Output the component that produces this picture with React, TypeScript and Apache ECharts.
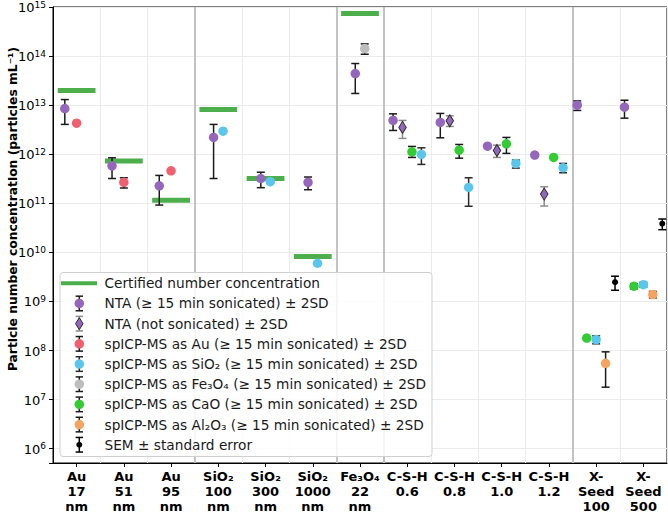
import React, { useEffect, useRef } from "react";
import * as echarts from "echarts";

const FONT = "DejaVu Sans";

const categories = [
  "Au\n17\nnm", "Au\n51\nnm", "Au\n95\nnm",
  "SiO₂\n100\nnm", "SiO₂\n300\nnm", "SiO₂\n1000\nnm",
  "Fe₃O₄\n22\nnm",
  "C-S-H\n0.6", "C-S-H\n0.8", "C-S-H\n1.0", "C-S-H\n1.2",
  "X-\nSeed\n100", "X-\nSeed\n500",
];

const yTickExponents = [6, 7, 8, 9, 10, 11, 12, 13, 14, 15];

const N = null;
const certified = [2.0e13, 7.3e11, 1.16e11, 8.2e12, 3.2e11, 8.2e9, 7.35e14, N, N, N, N, N, N];

const ntaSonicated = [8.5e12, 5.8e11, 2.27e11, 2.2e12, 3.2e11, 2.67e11, 4.4e13, 4.88e12, 4.45e12, 1.46e12, 9.6e11, 1.0e13, 9.1e12];
const ntaSonicatedLow = [4.05e12, 3.2e11, 9.2e10, 3.2e11, 2.08e11, 1.89e11, 1.73e13, 3.05e12, 2.16e12, N, N, 7.8e12, 5.43e12];
const ntaSonicatedHigh = [1.3e13, 8.45e11, 3.7e11, 4.05e12, 4.3e11, 3.43e11, 7.05e13, 6.65e12, 6.78e12, N, N, 1.22e13, 1.26e13];

const ntaNotSonicated = [N, N, N, N, N, N, N, 3.52e12, 4.8e12, 1.19e12, 1.54e11, N, N];
const ntaNotSonicatedLow = [N, N, N, N, N, N, N, 2.1e12, 3.68e12, 8.6e11, 8.8e10, N, N];
const ntaNotSonicatedHigh = [N, N, N, N, N, N, N, 4.88e12, 6.05e12, 1.53e12, 2.17e11, N, N];

const spAu = [4.3e12, 2.67e11, 4.6e11, N, N, N, N, N, N, N, N, N, N];
const spAuLow = [N, 2.05e11, N, N, N, N, N, N, N, N, N, N, N];
const spAuHigh = [N, 3.31e11, N, N, N, N, N, N, N, N, N, N, N];

const spSiO2 = [N, N, N, 2.95e12, 2.75e11, 6.0e9, N, 9.9e11, 2.11e11, 6.5e11, 5.3e11, 1.67e8, 2.2e9];
const spSiO2Low = [N, N, N, N, N, N, N, 6.2e11, 8.7e10, 5.22e11, 4.19e11, 1.37e8, 1.95e9];
const spSiO2High = [N, N, N, N, N, N, N, 1.35e12, 3.31e11, 7.6e11, 6.5e11, 1.99e8, 2.45e9];

const spFe3O4 = [N, N, N, N, N, N, 1.42e14, N, N, N, N, N, N];
const spFe3O4Low = [N, N, N, N, N, N, 1.09e14, N, N, N, N, N, N];
const spFe3O4High = [N, N, N, N, N, N, 1.77e14, N, N, N, N, N, N];

const spCaO = [N, N, N, N, N, N, N, 1.12e12, 1.21e12, 1.63e12, 8.6e11, 1.79e8, 2.04e9];
const spCaOLow = [N, N, N, N, N, N, N, 8.6e11, 8.3e11, 1.04e12, N, N, 1.8e9];
const spCaOHigh = [N, N, N, N, N, N, N, 1.44e12, 1.58e12, 2.2e12, N, N, 2.3e9];

const spAl2O3 = [N, N, N, N, N, N, N, N, N, N, N, 5.5e7, 1.38e9];
const spAl2O3Low = [N, N, N, N, N, N, N, N, N, N, N, 1.79e7, 1.18e9];
const spAl2O3High = [N, N, N, N, N, N, N, N, N, N, N, 9.4e7, 1.6e9];

const sem = [N, N, N, N, N, N, N, N, N, N, N, 2.47e9, 3.84e10];
const semLow = [N, N, N, N, N, N, N, N, N, N, N, 1.69e9, 2.9e10];
const semHigh = [N, N, N, N, N, N, N, N, N, N, N, 3.27e9, 4.78e10];

// group separators (after these category counts)
const groupEnds = [3, 6, 7, 11];

// ---- layout / style ----
const GREEN_LINE = "#4caf4c";
const PURPLE = "#9467bd";
const RED = "#f0606e";
const BLUE = "#5ac6ee";
const GREY = "#bdbdbd";
const LIME = "#33cc33";
const ORANGE = "#f4a460";
const BLACK = "#000000";

const dodge = {
  nta: [-0.25, -0.25, -0.25, -0.1, -0.1, -0.1, -0.1, -0.3, -0.3, -0.3, -0.3, -0.4, -0.4],
  ntaNot: [0, 0, 0, 0, 0, 0, 0, -0.1, -0.1, -0.1, -0.1, 0, 0],
  au: [0, 0, 0, 0, 0, 0, 0, 0, 0, 0, 0, 0, 0],
  sio2: [0, 0, 0, 0.1, 0.1, 0.1, 0, 0.3, 0.3, 0.3, 0.3, 0, 0],
  fe: [0, 0, 0, 0, 0, 0, 0.1, 0, 0, 0, 0, 0, 0],
  cao: [0, 0, 0, 0, 0, 0, 0, 0.1, 0.1, 0.1, 0.1, -0.2, -0.2],
  al: [0, 0, 0, 0, 0, 0, 0, 0, 0, 0, 0, 0.2, 0.2],
  sem: [0, 0, 0, 0, 0, 0, 0, 0, 0, 0, 0, 0.4, 0.4],
};

type Method = {
  name: string;
  values: (number | null)[];
  low: (number | null)[];
  high: (number | null)[];
  off: number[];
  color: string;
  symbol: string;
  size: number | number[];
  bar: string;
  border?: string;
};

const methods: Method[] = [
  { name: "NTA (≥ 15 min sonicated) ± 2SD", values: ntaSonicated, low: ntaSonicatedLow, high: ntaSonicatedHigh, off: dodge.nta, color: PURPLE, symbol: "circle", size: 9.5, bar: "#1a1a1a" },
  { name: "NTA (not sonicated) ± 2SD", values: ntaNotSonicated, low: ntaNotSonicatedLow, high: ntaNotSonicatedHigh, off: dodge.ntaNot, color: PURPLE, symbol: "diamond", size: [7.5, 12], bar: "#8c8c8c", border: "#2a2a2a" },
  { name: "spICP-MS as Au (≥ 15 min sonicated) ± 2SD", values: spAu, low: spAuLow, high: spAuHigh, off: dodge.au, color: RED, symbol: "circle", size: 9.5, bar: "#1a1a1a" },
  { name: "spICP-MS as SiO₂ (≥ 15 min sonicated) ± 2SD", values: spSiO2, low: spSiO2Low, high: spSiO2High, off: dodge.sio2, color: BLUE, symbol: "circle", size: 9.5, bar: "#2a2a2a" },
  { name: "spICP-MS as Fe₃O₄ (≥ 15 min sonicated) ± 2SD", values: spFe3O4, low: spFe3O4Low, high: spFe3O4High, off: dodge.fe, color: GREY, symbol: "circle", size: 9.5, bar: "#1a1a1a" },
  { name: "spICP-MS as CaO (≥ 15 min sonicated) ± 2SD", values: spCaO, low: spCaOLow, high: spCaOHigh, off: dodge.cao, color: LIME, symbol: "circle", size: 9.5, bar: "#1a1a1a" },
  { name: "spICP-MS as Al₂O₃ (≥ 15 min sonicated) ± 2SD", values: spAl2O3, low: spAl2O3Low, high: spAl2O3High, off: dodge.al, color: ORANGE, symbol: "circle", size: 9.5, bar: "#1a1a1a" },
  { name: "SEM ± standard error", values: sem, low: semLow, high: semHigh, off: dodge.sem, color: BLACK, symbol: "circle", size: 6, bar: "#000000" },
];

const CAP = 4;
const TOP_Z = 200;

function buildOption() {
  const series: any[] = [];

  // certified horizontal bars
  series.push({
    type: "custom",
    name: "Certified number concentration",
    xAxisIndex: 0,
    yAxisIndex: 0,
    silent: true,
    z: 3,
    encode: { x: 0, y: 1 },
    data: certified
      .map((v, i) => (v == null ? null : [i + 0.5, v]))
      .filter((d) => d != null),
    renderItem: (_p: any, api: any) => {
      const x = api.value(0);
      const v = api.value(1);
      const a = api.coord([x - 0.4, v]);
      const b = api.coord([x + 0.4, v]);
      return {
        type: "line",
        shape: { x1: a[0], y1: a[1], x2: b[0], y2: b[1] },
        style: { stroke: GREEN_LINE, lineWidth: 5 },
      };
    },
  });

  // group separator lines
  series.push({
    type: "scatter",
    name: "separators",
    silent: true,
    z: 1,
    data: [],
    markLine: {
      silent: true,
      symbol: ["none", "none"],
      label: { show: false },
      z: 1,
      lineStyle: { color: "#c2c2c2", width: 2, type: "solid" },
      data: groupEnds.map((g) => ({ xAxis: g })),
    },
  });

  methods.forEach((m) => {
    const bars: any[] = [];
    m.values.forEach((v, i) => {
      const lo = m.low[i];
      const hi = m.high[i];
      if (v != null && lo != null && hi != null) bars.push([i + 0.5 + m.off[i], lo, hi]);
    });
    if (bars.length) {
      series.push({
        type: "custom",
        name: m.name + " err",
        silent: true,
        z: 4,
        encode: { x: 0, y: [1, 2] },
        data: bars,
        renderItem: (_p: any, api: any) => {
          const x = api.value(0);
          const p1 = api.coord([x, api.value(1)]);
          const p2 = api.coord([x, api.value(2)]);
          const st = { stroke: m.bar, lineWidth: 1.5 };
          return {
            type: "group",
            children: [
              { type: "line", shape: { x1: p1[0], y1: p1[1], x2: p2[0], y2: p2[1] }, style: st },
              { type: "line", shape: { x1: p1[0] - CAP, y1: p1[1], x2: p1[0] + CAP, y2: p1[1] }, style: st },
              { type: "line", shape: { x1: p2[0] - CAP, y1: p2[1], x2: p2[0] + CAP, y2: p2[1] }, style: st },
            ],
          };
        },
      });
    }
    series.push({
      type: "scatter",
      name: m.name,
      silent: true,
      z: 5,
      symbol: m.symbol,
      symbolSize: m.size,
      itemStyle: {
        color: m.color,
        opacity: 1,
        borderColor: m.border || m.color,
        borderWidth: m.border ? 1 : 0,
      },
      data: m.values
        .map((v, i) => (v == null ? null : [i + 0.5 + m.off[i], v]))
        .filter((d) => d != null),
    });
  });

  // legend drawn as graphic
  const legendRows = [
    { label: "Certified number concentration", kind: "line", color: GREEN_LINE, bar: "" },
    ...methods.map((m) => ({
      label: m.name,
      kind: m.symbol === "diamond" ? "diamond" : m.color === BLACK ? "dot" : "circle",
      color: m.color,
      bar: m.bar,
    })),
  ];
  const LX = 60;
  const LY = 272.5;
  const lg: any[] = [
    {
      type: "rect",
      z: TOP_Z,
      shape: { x: LX, y: LY, width: 372, height: 184, r: 3 },
      style: { fill: "rgba(255,255,255,0.85)", stroke: "#d0d0d0", lineWidth: 1 },
    },
  ];
  legendRows.forEach((r, i) => {
    const cy = LY + 10.8 + i * 20.18;
    const cx = LX + 19.3;
    if (r.kind === "line") {
      lg.push({
        type: "line",
        z: TOP_Z + 1,
        shape: { x1: LX + 1, y1: cy, x2: LX + 37, y2: cy },
        style: { stroke: r.color, lineWidth: 4 },
      });
    } else {
      const st = { stroke: r.bar, lineWidth: 1.5 };
      lg.push({ type: "line", z: TOP_Z + 1, shape: { x1: cx, y1: cy - 7.3, x2: cx, y2: cy + 7.3 }, style: st });
      lg.push({ type: "line", z: TOP_Z + 1, shape: { x1: cx - 3.7, y1: cy - 7.3, x2: cx + 3.7, y2: cy - 7.3 }, style: st });
      lg.push({ type: "line", z: TOP_Z + 1, shape: { x1: cx - 3.7, y1: cy + 7.3, x2: cx + 3.7, y2: cy + 7.3 }, style: st });
      if (r.kind === "diamond") {
        lg.push({
          type: "polygon",
          z: TOP_Z + 2,
          shape: { points: [[cx, cy - 6], [cx + 3.75, cy], [cx, cy + 6], [cx - 3.75, cy]] },
          style: { fill: r.color, stroke: "#2a2a2a", lineWidth: 1 },
        });
      } else {
        lg.push({
          type: "circle",
          z: TOP_Z + 2,
          shape: { cx, cy, r: r.kind === "dot" ? 3 : 4.75 },
          style: { fill: r.color },
        });
      }
    }
    lg.push({
      type: "text",
      z: TOP_Z + 2,
      x: LX + 44.5,
      y: cy,
      style: {
        text: r.label,
        fontFamily: FONT,
        fontSize: 13.7,
        fill: "#1a1a1a",
        textAlign: "left",
        textVerticalAlign: "middle",
        verticalAlign: "middle",
      },
    });
  });

  return {
    animation: false,
    backgroundColor: "#ffffff",
    textStyle: { fontFamily: FONT },
    grid: {
      left: 53,
      top: 7,
      right: 1,
      bottom: 50,
      show: true,
      borderColor: "#000",
      borderWidth: 1,
      containLabel: false,
      outerBoundsMode: "none",
    },
    xAxis: [
      {
        type: "value",
        min: 0,
        max: categories.length,
        interval: 1,
        position: "bottom",
        axisLine: { show: false },
        axisTick: { show: false },
        axisLabel: { show: false },
        splitLine: { show: true, lineStyle: { color: "#ebebeb", width: 1 } },
      },
      {
        type: "category",
        data: categories,
        position: "bottom",
        boundaryGap: true,
        axisLine: { show: true, lineStyle: { color: "#000", width: 1 } },
        axisTick: { show: true, alignWithLabel: true, length: 4, lineStyle: { color: "#000" } },
        splitLine: { show: false },
        axisLabel: {
          interval: 0,
          margin: 6,
          fontFamily: FONT,
          fontSize: 13,
          fontWeight: "bold",
          lineHeight: 15,
          color: "#000",
        },
      },
    ],
    yAxis: {
      type: "log",
      logBase: 10,
      min: Math.pow(10, 5.708),
      max: 1e15,
      splitNumber: 10,
      axisLine: { show: true, lineStyle: { color: "#000", width: 1 } },
      axisTick: { show: true, length: 4, lineStyle: { color: "#000" } },
      minorTick: { show: false },
      splitLine: { show: true, lineStyle: { color: "#ebebeb", width: 1 } },
      axisLabel: {
        margin: 7,
        formatter: (val: number) => {
          const lgv = Math.log10(val);
          const e = Math.round(lgv);
          if (Math.abs(lgv - e) > 0.01 || yTickExponents.indexOf(e) < 0) return "";
          return `{b|10}{s|${e}}`;
        },
        rich: {
          b: { fontFamily: FONT, fontSize: 13, color: "#000", lineHeight: 14, verticalAlign: "bottom", padding: [3, 0, 0, 0] },
          s: { fontFamily: FONT, fontSize: 9, color: "#000", lineHeight: 9, verticalAlign: "top" },
        },
      },
    },
    series,
    graphic: [
      {
        type: "text",
        x: 13,
        y: 209,
        rotation: Math.PI / 2,
        z: TOP_Z,
        style: {
          text: "Particle number concentration (particles mL⁻¹)",
          fontFamily: FONT,
          fontSize: 12.3,
          fontWeight: "bold",
          fill: "#000",
          textAlign: "center",
          textVerticalAlign: "middle",
          verticalAlign: "middle",
        },
      },
      ...lg,
    ],
  };
}

export default function App() {
  const ref = useRef<HTMLDivElement>(null);
  useEffect(() => {
    document.body.style.margin = "0";
    const chart = echarts.init(ref.current!, null, { renderer: "svg" });
    chart.setOption(buildOption() as any);
    return () => chart.dispose();
  }, []);
  return (
    <div
      ref={ref}
      style={{ width: 668, height: 513, position: "fixed", left: 0, top: 0 }}
    />
  );
}
